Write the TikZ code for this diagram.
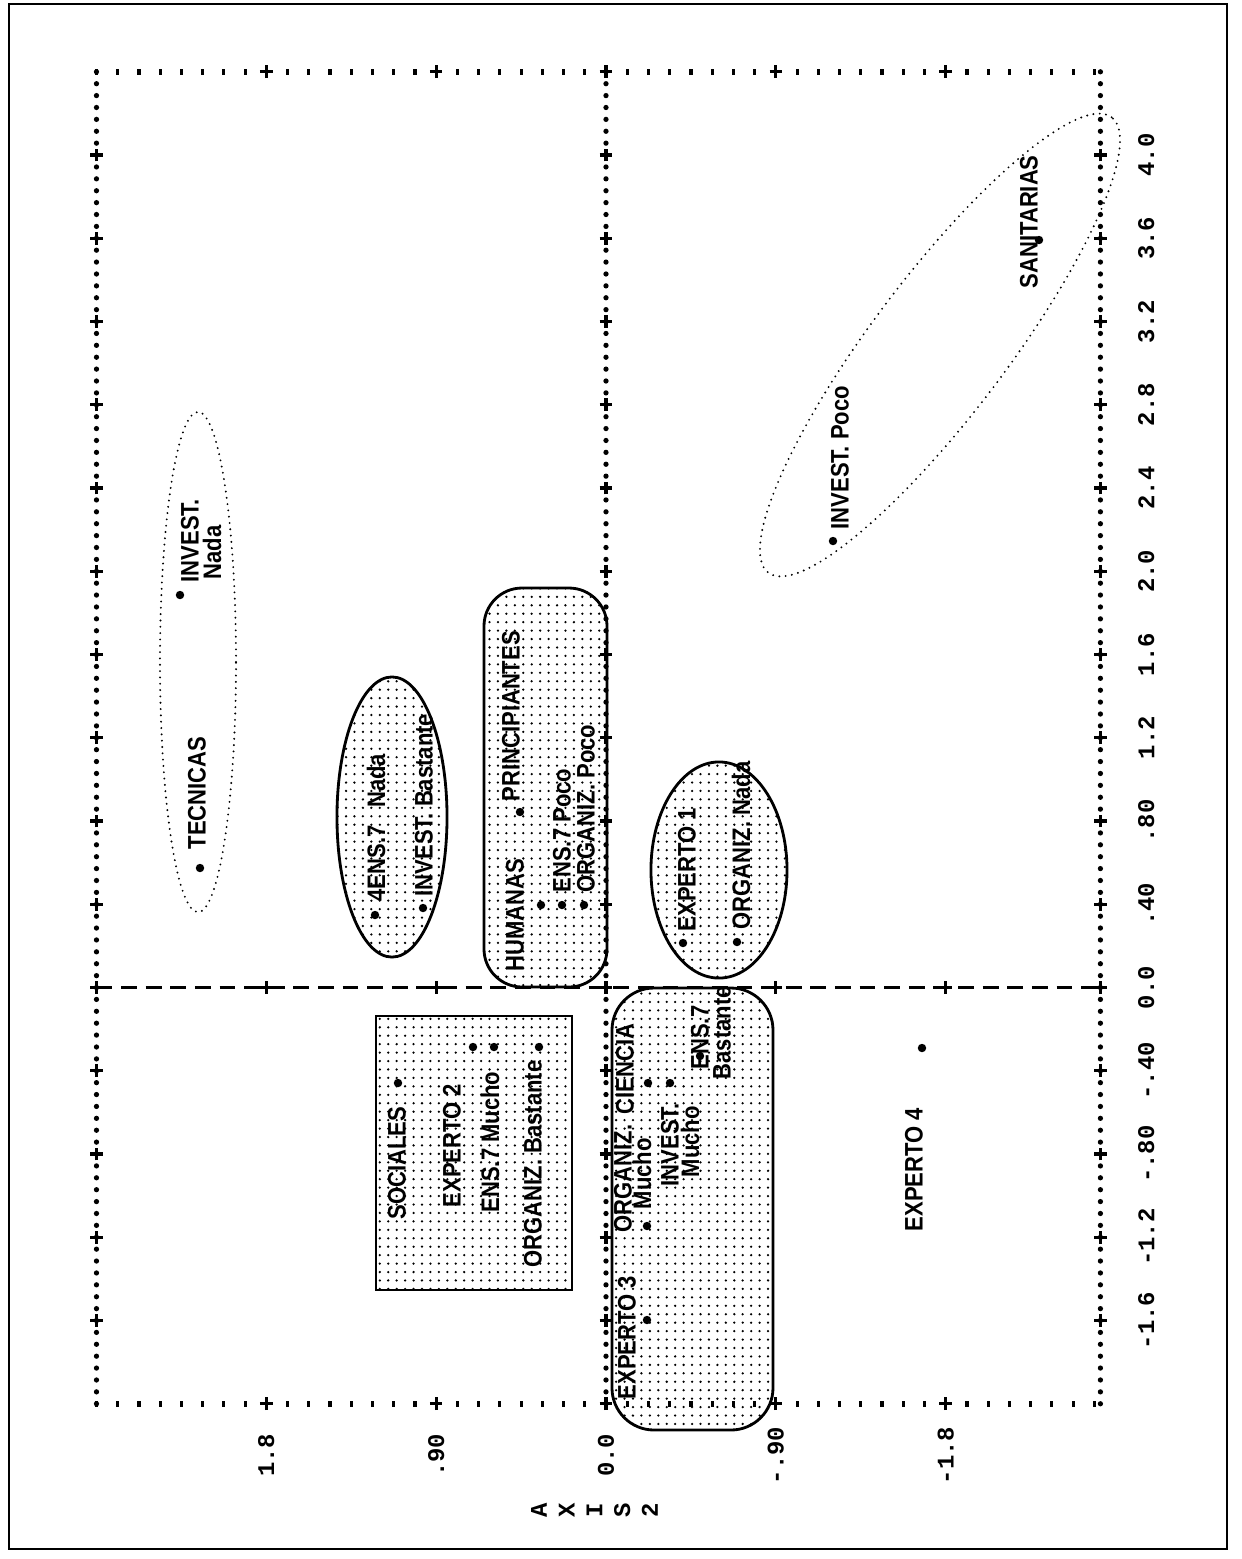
\documentclass[tikz,border=0pt]{standalone}
\usepackage{fontspec}
\newfontfamily\lblfont{Liberation Sans}[FakeStretch=0.87]
\newfontfamily\axfont{Liberation Mono}
\usetikzlibrary{patterns.meta}
\tikzdeclarepattern{
  name=fine dots,
  type=uncolored,
  bounding box={(-1.2pt,-1.2pt) and (1.2pt,1.2pt)},
  tile size={(2.4pt,2.4pt)},
  code={\fill (0pt,0pt) circle (0.36pt);}
}

\begin{document}
\begin{tikzpicture}[x=0.01cm, y=-0.01cm,
  lbl/.style={rotate=90, anchor=west, inner sep=0pt, font=\lblfont\bfseries\fontsize{7.2}{6.8}\selectfont},
  mk/.style={circle, fill, inner sep=0pt, minimum size=2.4pt},
  axl/.style={rotate=90, inner sep=0pt, font=\axfont\bfseries\fontsize{6.8}{7.9}\selectfont},
  dotfill/.style={draw, line width=0.8pt, pattern=fine dots},
  dotring/.style={draw, line width=0.6pt, line cap=round, dash pattern=on 0pt off 1.8pt},
  crs/.pic={\draw[line width=0.9pt] (-1.8pt,0pt) -- (1.8pt,0pt) (0pt,-1.8pt) -- (0pt,1.8pt);}]
\useasboundingbox (0,0) rectangle (1242,1559);
\draw[line width=0.7pt] (9,4) rectangle (1227,1549);

% groups
\draw[dotring] (198,662) ellipse [x radius=0.38cm, y radius=2.5cm];
\draw[dotring, rotate around={53:(940,345)}] (940,345) ellipse [x radius=2.85cm, y radius=0.68cm];
\draw[dotfill] (392,817) ellipse [x radius=0.55cm, y radius=1.4cm];
\draw[dotfill, rounded corners=0.38cm] (484,588) rectangle (607,987);
\draw[dotfill] (719,870) ellipse [x radius=0.68cm, y radius=1.08cm];
\draw[dotfill] (376,1016) rectangle (572,1290);
\draw[dotfill, rounded corners=0.42cm] (612,988) rectangle (773,1430);

% frame and axes, in plot units (axis 1 up, axis 2 to the left)
\begin{scope}[shift={(606,987.5)}, x={(0cm,2.08cm)}, y={(-1.886cm,0cm)}]
\foreach \k in {0,...,112} {
  \fill ({-2+\k*0.4/7},2.7) circle (0.75pt);
  \fill ({-2+\k*0.4/7},0) circle (0.75pt);
  \fill ({-2+\k*0.4/7},-2.62) circle (0.75pt);
}
\foreach \k in {0,...,47} {
  \draw[line width=0.9pt] ({4.4-0.014},{2.7-\k*0.1125}) -- ({4.4+0.014},{2.7-\k*0.1125});
  \draw[line width=0.9pt] ({-2-0.014},{2.7-\k*0.1125}) -- ({-2+0.014},{2.7-\k*0.1125});
}
\draw[line width=1pt, dash pattern=on 4.5pt off 2.5pt] (0,2.7) -- (0,-2.62);
\foreach \v in {-1.6,-1.2,-0.8,-0.4,0,0.4,0.8,1.2,1.6,2.0,2.4,2.8,3.2,3.6,4.0} {
  \pic at (\v,2.7) {crs};
  \pic at (\v,0) {crs};
  \pic at (\v,-2.62) {crs};
}
\foreach \w in {1.8,0.9,0,-0.9,-1.8} {
  \pic at (4.4,\w) {crs};
  \pic at (0,\w) {crs};
  \pic at (-2,\w) {crs};
}
\foreach \v/\t [count=\i] in {4.0/4.0,3.6/3.6,3.2/3.2,2.8/2.8,2.4/2.4,2.0/2.0,1.6/1.6,1.2/1.2,0.8/.80,0.4/.40,0/0.0,-0.4/-.40,-0.8/-.80,-1.2/-1.2,-1.6/-1.6}
  \node[axl] (ta\i) at (\v,-2.863) {\t};
\foreach \w/\t [count=\i] in {1.8/1.8,0.9/.90,0/0.0,-0.9/-.90,-1.8/-1.8}
  \node[axl] (tb\i) at (-2.248,\w) {\t};
\node[axl, align=center] (axis) at (-2.512,0.061) {A\\X\\I\\S\\2};
\end{scope}

% points
\node[mk] (tecm) at (200,868) {};
\node[lbl] (tec) at (197,850) {TECNICAS};
\node[mk] (invnm) at (180,595) {};
\node[lbl] (invn) at (190,583) {INVEST.};
\node[lbl] (invnb) at (212,580) {Nada};
\node[mk] (ensnm) at (375,915) {};
\node[lbl] (ensn) at (376,902) {4ENS.7\hspace{5pt}Nada};
\node[mk] (invbm) at (423,908) {};
\node[lbl] (invb) at (424,897) {INVEST. Bastante};
\node[mk] (humm) at (541,905) {};
\node[lbl] (hum) at (515,972) {HUMANAS};
\node[mk] (prinm) at (520,812) {};
\node[lbl] (prin) at (511,802) {PRINCIPIANTES};
\node[mk] (enspm) at (562,905) {};
\node[lbl] (ensp) at (562,893) {ENS.7 Poco};
\node[mk] (orgpm) at (584,905) {};
\node[lbl] (orgp) at (586,893) {ORGANIZ. Poco};
\node[mk] (exp1m) at (683,943) {};
\node[lbl] (exp1) at (687,932) {EXPERTO 1};
\node[mk] (orgnm) at (737,942) {};
\node[lbl] (orgn) at (741,930) {ORGANIZ. Nada};
\node[mk] (invpm) at (833,541) {};
\node[lbl] (invp) at (840,530) {INVEST. Poco};
\node[lbl] (sani) at (1029,289) {SANITARIAS};
\node[mk] (sanim) at (1039,240) {};

\node[mk] (socm) at (398,1083) {};
\node[lbl] (soc) at (397,1220) {SOCIALES};
\node[mk] (exp2m) at (473,1047) {};
\node[lbl] (exp2) at (452,1208) {EXPERTO 2};
\node[mk] (ensmm) at (494,1047) {};
\node[lbl] (ensm) at (490,1213) {ENS.7 Mucho};
\node[mk] (orgbm) at (539,1047) {};
\node[lbl] (orgb) at (533,1268) {ORGANIZ. Bastante};
\node[mk] (orgmm) at (647,1226) {};
\node[lbl] (orgm) at (623,1233) {ORGANIZ.};
\node[lbl] (orgmb) at (642,1210) {Mucho};
\node[mk] (ciem) at (648,1083) {};
\node[lbl] (cie) at (625,1115) {CIENCIA};
\node[mk] (exp3m) at (647,1320) {};
\node[lbl] (exp3) at (627,1400) {EXPERTO 3};
\node[mk] (invmm) at (670,1083) {};
\node[lbl] (invm) at (670,1187) {INVEST.};
\node[lbl] (invmb) at (690,1178) {Mucho};
\node[lbl] (ensb) at (700,1070) {ENS.7};
\node[lbl] (ensbb) at (722,1080) {Bastante};
\node[mk] (ensbm) at (700,1056) {};
\node[mk] (exp4m) at (922,1048) {};
\node[lbl] (exp4) at (914,1232) {EXPERTO 4};
\end{tikzpicture}
\end{document}
